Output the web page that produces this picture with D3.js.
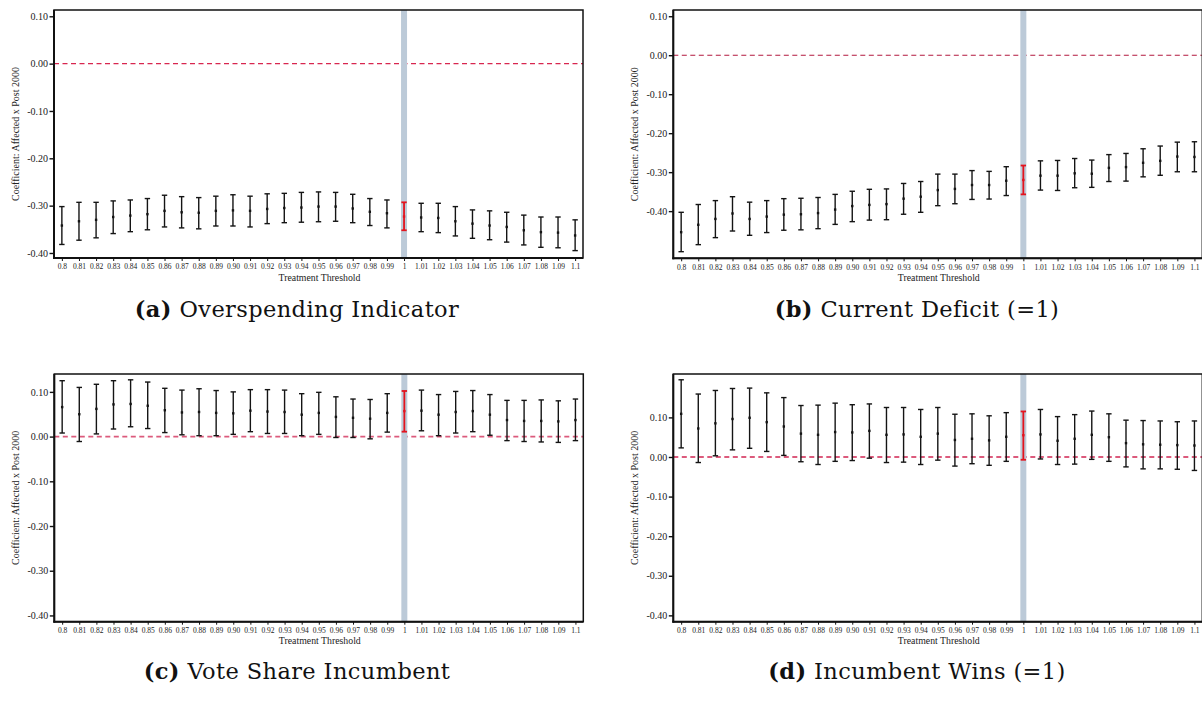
<!DOCTYPE html>
<html>
<head>
<meta charset="utf-8">
<script src="https://cdn.jsdelivr.net/npm/d3@7"></script>
<style>
  html, body { margin: 0; padding: 0; background: #fff; }
  svg { display: block; }
</style>
</head>
<body>
<svg id="fig" width="1202" height="707"></svg>
<script>
// Treatment thresholds (x categories), labelled as in the output tables
const thresholds = ["0.8","0.81","0.82","0.83","0.84","0.85","0.86","0.87","0.88","0.89",
  "0.90","0.91","0.92","0.93","0.94","0.95","0.96","0.97","0.98","0.99",
  "1","1.01","1.02","1.03","1.04","1.05","1.06","1.07","1.08","1.09","1.1"];
const baseline = "1";
const yTicks = [0.10, 0.00, -0.10, -0.20, -0.30, -0.40];

// (a) Overspending Indicator
const overspendCoef = [-0.342,-0.333,-0.330,-0.324,-0.321,-0.318,-0.311,-0.314,-0.315,-0.311,-0.310,-0.311,-0.307,-0.305,-0.304,-0.302,-0.302,-0.306,-0.313,-0.316,-0.323,-0.325,-0.326,-0.333,-0.338,-0.342,-0.345,-0.352,-0.356,-0.357,-0.363];
const overspendHi   = [-0.302,-0.293,-0.293,-0.290,-0.288,-0.285,-0.278,-0.281,-0.283,-0.280,-0.277,-0.280,-0.275,-0.274,-0.272,-0.271,-0.272,-0.276,-0.285,-0.288,-0.293,-0.295,-0.295,-0.302,-0.309,-0.311,-0.314,-0.320,-0.324,-0.324,-0.330];
const overspendLo   = [-0.382,-0.373,-0.368,-0.359,-0.355,-0.351,-0.345,-0.347,-0.349,-0.343,-0.343,-0.345,-0.338,-0.336,-0.335,-0.334,-0.333,-0.336,-0.342,-0.347,-0.352,-0.355,-0.357,-0.364,-0.369,-0.372,-0.377,-0.383,-0.388,-0.389,-0.395];

// (b) Current Deficit (=1)
const deficitCoef = [-0.454,-0.435,-0.420,-0.406,-0.420,-0.414,-0.409,-0.408,-0.405,-0.396,-0.387,-0.384,-0.382,-0.368,-0.363,-0.346,-0.343,-0.333,-0.333,-0.322,-0.320,-0.309,-0.309,-0.303,-0.304,-0.289,-0.287,-0.276,-0.271,-0.260,-0.261];
const deficitHi   = [-0.403,-0.383,-0.373,-0.363,-0.377,-0.373,-0.368,-0.367,-0.365,-0.357,-0.349,-0.344,-0.343,-0.329,-0.324,-0.305,-0.305,-0.296,-0.298,-0.286,-0.283,-0.271,-0.270,-0.265,-0.269,-0.255,-0.252,-0.240,-0.233,-0.223,-0.222];
const deficitLo   = [-0.504,-0.486,-0.468,-0.451,-0.462,-0.455,-0.449,-0.448,-0.445,-0.434,-0.427,-0.423,-0.422,-0.408,-0.403,-0.386,-0.381,-0.370,-0.369,-0.360,-0.357,-0.346,-0.347,-0.340,-0.339,-0.324,-0.323,-0.312,-0.308,-0.299,-0.299];

// (c) Vote Share Incumbent
const voteCoef = [0.066,0.050,0.062,0.072,0.073,0.069,0.059,0.054,0.055,0.053,0.052,0.058,0.056,0.055,0.049,0.053,0.044,0.042,0.040,0.053,0.057,0.058,0.049,0.055,0.057,0.049,0.037,0.035,0.035,0.034,0.037];
const voteHi   = [0.125,0.110,0.117,0.125,0.127,0.122,0.108,0.104,0.107,0.103,0.100,0.105,0.105,0.104,0.096,0.099,0.089,0.084,0.083,0.096,0.102,0.104,0.094,0.101,0.103,0.094,0.081,0.081,0.082,0.080,0.084];
const voteLo   = [0.008,-0.011,0.006,0.017,0.022,0.018,0.009,0.004,0.002,0.002,0.005,0.011,0.007,0.007,0.002,0.005,-0.002,-0.002,-0.005,0.010,0.011,0.013,0.002,0.008,0.011,0.003,-0.009,-0.011,-0.012,-0.013,-0.009];

// (d) Incumbent Wins (=1)
const winsCoef = [0.109,0.072,0.085,0.096,0.099,0.088,0.077,0.059,0.056,0.063,0.062,0.066,0.056,0.057,0.051,0.059,0.043,0.046,0.042,0.051,0.055,0.057,0.041,0.046,0.056,0.050,0.035,0.032,0.031,0.030,0.029];
const winsHi   = [0.195,0.159,0.168,0.173,0.174,0.162,0.150,0.130,0.131,0.136,0.132,0.134,0.125,0.125,0.120,0.125,0.108,0.109,0.104,0.112,0.115,0.120,0.102,0.107,0.116,0.109,0.093,0.092,0.091,0.089,0.091];
const winsLo   = [0.023,-0.014,0.003,0.018,0.022,0.014,0.004,-0.012,-0.019,-0.011,-0.009,-0.003,-0.014,-0.013,-0.019,-0.008,-0.023,-0.017,-0.021,-0.011,-0.007,-0.005,-0.019,-0.018,-0.006,-0.011,-0.025,-0.030,-0.030,-0.031,-0.034];

const captionLetters = ["(a)", "(b)", "(c)", "(d)"];
const captionTexts = ["Overspending Indicator", "Current Deficit (=1)", "Vote Share Incumbent", "Incumbent Wins (=1)"];

// Panel layout: plot boxes, y ranges and zero-line styling
const panels = [
  { coef: overspendCoef, lo: overspendLo, hi: overspendHi, x0: 54, x1: 583, y0: 10, y1: 258,
    dom: [-0.4106, 0.1133], zeroColor: "#d8264f", zeroWidth: 1.3, capX: 297, capY: 317 },
  { coef: deficitCoef, lo: deficitLo, hi: deficitHi, x0: 673.3, x1: 1202.3, y0: 10, y1: 258.3,
    dom: [-0.521, 0.116], zeroColor: "#b3183f", zeroWidth: 1.1, capX: 917, capY: 317 },
  { coef: voteCoef, lo: voteLo, hi: voteHi, x0: 54.3, x1: 583.3, y0: 374, y1: 621.7,
    dom: [-0.414, 0.140], zeroColor: "#dc5a7c", zeroWidth: 1.8, capX: 297, capY: 679 },
  { coef: winsCoef, lo: winsLo, hi: winsHi, x0: 673.3, x1: 1202.3, y0: 374, y1: 621.7,
    dom: [-0.416, 0.2096], zeroColor: "#dc5a7c", zeroWidth: 1.8, capX: 917, capY: 679 }
];

const svg = d3.select("#fig");
const serif = "'Liberation Serif', 'Times New Roman', serif";

panels.forEach((p, i) => {
  const g = svg.append("g");
  const x = d3.scalePoint().domain(thresholds).range([p.x0, p.x1]).padding(0.46);
  const y = d3.scaleLinear().domain(p.dom).range([p.y1, p.y0]);

  // zero reference line
  g.append("line")
    .attr("x1", p.x0).attr("x2", p.x1)
    .attr("y1", y(0)).attr("y2", y(0))
    .attr("stroke", p.zeroColor).attr("stroke-width", p.zeroWidth)
    .attr("stroke-dasharray", "5,3.5");

  // highlighted baseline threshold band
  g.append("rect")
    .attr("x", x(baseline) - 3).attr("width", 6)
    .attr("y", p.y0).attr("height", p.y1 - p.y0)
    .attr("fill", "#bccad8");

  // error bars
  const rows = thresholds.map((t, k) => ({ t, c: p.coef[k], lo: p.lo[k], hi: p.hi[k] }));
  const bars = g.selectAll("g.bar").data(rows).enter().append("g").attr("class", "bar");
  const col = d => d.t === baseline ? "#e3141e" : "#141414";
  const wid = d => d.t === baseline ? 1.8 : 1.4;
  bars.append("line")
    .attr("x1", d => x(d.t)).attr("x2", d => x(d.t))
    .attr("y1", d => y(d.hi)).attr("y2", d => y(d.lo))
    .attr("stroke", col).attr("stroke-width", wid);
  ["hi", "lo"].forEach(key => {
    bars.append("line")
      .attr("x1", d => x(d.t) - 2.7).attr("x2", d => x(d.t) + 2.7)
      .attr("y1", d => y(d[key])).attr("y2", d => y(d[key]))
      .attr("stroke", col).attr("stroke-width", wid);
  });
  bars.append("rect")
    .attr("x", d => x(d.t) - 1.2).attr("y", d => y(d.c) - 1.2)
    .attr("width", 2.4).attr("height", 2.4)
    .attr("fill", col);

  // frame
  g.append("rect")
    .attr("x", p.x0).attr("y", p.y0)
    .attr("width", p.x1 - p.x0).attr("height", p.y1 - p.y0)
    .attr("fill", "none").attr("stroke", "#111").attr("stroke-width", 1.5);

  // y axis
  const yAxis = d3.axisLeft(y).tickValues(yTicks).tickSize(4.5).tickPadding(1.5)
    .tickFormat(d => d3.format(".2f")(d).replace("−", "-"));
  const ya = g.append("g").attr("transform", `translate(${p.x0},0)`).call(yAxis);
  ya.attr("font-family", serif);
  ya.select(".domain").remove();
  ya.selectAll(".tick line").attr("stroke", "#111").attr("stroke-width", 1.4);
  ya.selectAll(".tick text").attr("font-family", serif).attr("font-size", 10).attr("fill", "#222");
  g.append("line").attr("x1", p.x0).attr("x2", p.x0).attr("y1", p.y0).attr("y2", p.y1 + 1)
    .attr("stroke", "#111").attr("stroke-width", 2);

  // x axis
  const xAxis = d3.axisBottom(x).tickSize(3).tickPadding(3);
  const xa = g.append("g").attr("transform", `translate(0,${p.y1})`).call(xAxis);
  xa.attr("font-family", serif);
  xa.select(".domain").remove();
  xa.selectAll(".tick line").attr("stroke", "#111").attr("stroke-width", 1);
  xa.selectAll(".tick text").attr("font-family", serif).attr("font-size", 7.5).attr("fill", "#222");
  g.append("line").attr("x1", p.x0 - 1).attr("x2", p.x1).attr("y1", p.y1).attr("y2", p.y1)
    .attr("stroke", "#111").attr("stroke-width", 2);

  // axis titles
  g.append("text")
    .attr("x", (p.x0 + p.x1) / 2 + 1).attr("y", p.y1 + 22.5)
    .attr("text-anchor", "middle")
    .attr("font-family", serif).attr("font-size", 9.8).attr("fill", "#222")
    .text("Treatment Threshold");
  g.append("text")
    .attr("transform", `translate(${p.x0 - 35},${(p.y0 + p.y1) / 2}) rotate(-90)`)
    .attr("text-anchor", "middle")
    .attr("font-family", serif).attr("font-size", 10).attr("fill", "#222")
    .text("Coefficient: Affected x Post 2000");

  // sub-figure caption
  const cap = svg.append("text")
    .attr("x", p.capX).attr("y", p.capY)
    .attr("text-anchor", "middle")
    .attr("font-family", "'DejaVu Serif', serif").attr("font-size", 22.5)
    .attr("letter-spacing", 0.4).attr("fill", "#111");
  cap.append("tspan").attr("font-weight", "bold").text(captionLetters[i]);
  cap.append("tspan").text(" " + captionTexts[i]);
});
</script>
</body>
</html>
